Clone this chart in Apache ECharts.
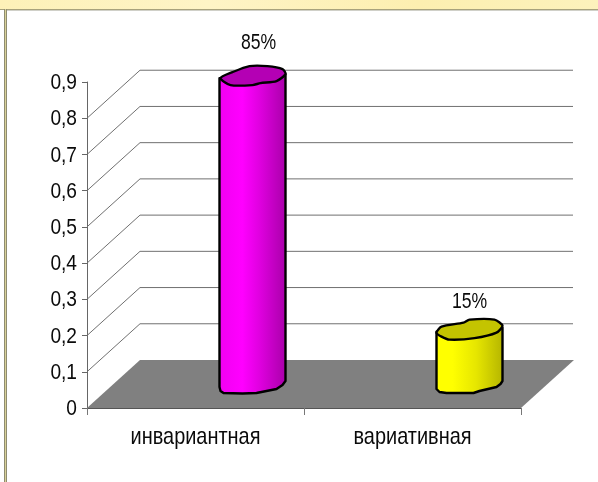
<!DOCTYPE html>
<html><head><meta charset="utf-8">
<style>html,body{margin:0;padding:0;background:#fff}#c{width:598px;height:482px}</style>
<script src="https://cdn.jsdelivr.net/npm/echarts@6/dist/echarts.min.js"></script>
</head><body><div id="c"></div>
<script>
const categories = ['инвариантная', 'вариативная'];
const values = [0.85, 0.15];
const valueLabels = ['85%', '15%'];
const yTicks = [0, 0.1, 0.2, 0.3, 0.4, 0.5, 0.6, 0.7, 0.8, 0.9];
const yTickLabels = ['0', '0,1', '0,2', '0,3', '0,4', '0,5', '0,6', '0,7', '0,8', '0,9'];
const wallTicks = [0.1, 0.2, 0.3, 0.4, 0.5, 0.6, 0.7, 0.8];

const FONT = '"Liberation Sans",Arial,sans-serif';
const DEPTH_X = 53, DEPTH_Y = 48;
const BAR_DX = 57, BAR_DY = 24;
const LABEL_OFFSET = [[6, -33], [0, -28]];
const STYLES = [
  {
    top: [[-32,2],[-20,-4],[-3,-10],[15,-10],[30,-7],[33,-2],[24,5],[8,7],[0,9],[-22,9]],
    bottom: [[33,-3],[30,1],[24,5],[4,9],[-10,9.5],[-29,9],[-32,7],[-33,3]],
    topFill: '#b400b4',
    stops: [[0,'#f000f0'],[0.35,'#ff00ff'],[0.6,'#e000e0'],[1,'#a800a8']]
  },
  {
    top: [[-33,3],[-28,-3],[-6,-7],[0,-10],[25,-10],[33,-4],[27,3],[5,8.5],[-20,10],[-28,7]],
    bottom: [[33,-3],[31,0],[27,3],[10,7],[4,9],[-23,9],[-30,8],[-33,5]],
    topFill: '#c4c400',
    stops: [[0,'#ffff00'],[0.25,'#ffff00'],[0.6,'#e6e600'],[1,'#b4b400']]
  }
];

function shifted(p, pts) { return pts.map(o => [p[0] + o[0], p[1] + o[1]]); }
function narrowText(text, x, y, size, sx, align) {
  return { type: 'text', x: x, y: y, scaleX: sx,
    style: { text: text, x: 0, y: 0, align: align, verticalAlign: 'middle', font: size + 'px ' + FONT, fill: '#0a0a0a' } };
}

const chart = echarts.init(document.getElementById('c'), null, { renderer: 'canvas' });
chart.setOption({
  animation: false,
  backgroundColor: '#fff',
  graphic: [
    { type: 'rect', z: 0, shape: { x: 0, y: 0, width: 598, height: 9 },
      style: { fill: new echarts.graphic.LinearGradient(0, 0, 1, 0, [
        { offset: 0, color: '#fdf1b8' }, { offset: 0.35, color: '#fef4c6' }, { offset: 0.7, color: '#fdefb0' }, { offset: 1, color: '#fdf2bc' }]) } },
    { type: 'rect', z: 0, shape: { x: 0, y: 9, width: 598, height: 1 }, style: { fill: '#a8a27c' } },
    { type: 'rect', z: 0, shape: { x: 6, y: 10, width: 592, height: 1 }, style: { fill: '#d0d0c8' } },
    { type: 'rect', z: 0, shape: { x: 4, y: 9, width: 1, height: 473 }, style: { fill: '#8e8c70' } },
    { type: 'rect', z: 0, shape: { x: 5, y: 9, width: 1, height: 473 }, style: { fill: '#d8d098' } },
    { type: 'rect', z: 0, shape: { x: 6, y: 9, width: 1, height: 473 }, style: { fill: '#8e8c70' } }
  ],
  grid: { left: 87, right: 77, top: 82, bottom: 74 },
  xAxis: {
    type: 'category', data: categories, boundaryGap: true,
    axisLine: { lineStyle: { color: '#555', width: 1 } },
    axisTick: { show: true, alignWithLabel: false, length: 7, lineStyle: { color: '#777' } },
    axisLabel: { show: false }
  },
  yAxis: {
    type: 'value', min: 0, max: 0.9, interval: 0.1,
    axisLine: { show: true, lineStyle: { color: '#666', width: 1 } },
    axisTick: { show: true, length: 5, lineStyle: { color: '#666' } },
    splitLine: { show: false },
    axisLabel: { show: false }
  },
  series: [
    {
      type: 'custom', silent: true, z: 1, data: [0],
      renderItem(params, api) {
        const g = params.coordSys, y0 = api.coord([0, 0])[1], x0 = g.x, x1 = g.x + g.width;
        return { type: 'polygon', shape: { points: [[x0, y0], [x0 + DEPTH_X, y0 - DEPTH_Y], [x1 + DEPTH_X, y0 - DEPTH_Y], [x1, y0]] },
          style: { fill: '#808080' } };
      }
    },
    {
      type: 'custom', silent: true, z: 2, data: wallTicks,
      encode: { y: 0 },
      renderItem(params, api) {
        const g = params.coordSys, y = api.coord([0, api.value(0)])[1], x0 = g.x, x1 = g.x + g.width;
        return { type: 'polyline', shape: { points: [[x0, y], [x0 + DEPTH_X, y - DEPTH_Y], [x1 + DEPTH_X - 1, y - DEPTH_Y]] },
          style: { fill: null, stroke: '#707070', lineWidth: 1 } };
      }
    },
    {
      type: 'custom', silent: true, z: 3, data: yTicks,
      encode: { y: 0 },
      renderItem(params, api) {
        const p = api.coord([0, api.value(0)]);
        return narrowText(yTickLabels[params.dataIndex], params.coordSys.x - 10, p[1] + 1, 22, 0.87, 'right');
      }
    },
    {
      type: 'custom', silent: true, z: 3, data: categories.map((c, i) => [i]),
      encode: { x: 0 },
      renderItem(params, api) {
        const p = api.coord([api.value(0), 0]);
        return narrowText(categories[params.dataIndex], p[0], p[1] + 29, 24, 0.83, 'center');
      }
    },
    {
      type: 'custom', z: 4,
      data: categories.map((c, i) => [i, values[i]]),
      encode: { x: 0, y: 1 },
      renderItem(params, api) {
        const i = params.dataIndex, s = STYLES[i];
        const cat = api.value(0), val = api.value(1);
        const base = api.coord([cat, 0]), tip = api.coord([cat, val]);
        const b = [base[0] + BAR_DX, base[1] - BAR_DY], t = [tip[0] + BAR_DX, tip[1] - BAR_DY];
        const topPts = shifted(t, s.top);
        const bodyPts = shifted(t, [[-33, 2]]).concat(shifted(b, s.bottom).reverse(), shifted(t, [[33, -2]]));
        return {
          type: 'group',
          children: [
            { type: 'polygon', shape: { points: bodyPts },
              style: { stroke: '#000', lineWidth: 2.4, lineJoin: 'round',
                fill: new echarts.graphic.LinearGradient(0, 0, 1, 0, s.stops.map(o => ({ offset: o[0], color: o[1] }))) } },
            { type: 'polygon', shape: { points: topPts, smooth: 0.25 },
              style: { fill: s.topFill, stroke: '#000', lineWidth: 2.4 } },
            narrowText(valueLabels[i], t[0] + LABEL_OFFSET[i][0], t[1] + LABEL_OFFSET[i][1], 22, 0.8, 'center')
          ]
        };
      }
    }
  ]
});
</script></body></html>
